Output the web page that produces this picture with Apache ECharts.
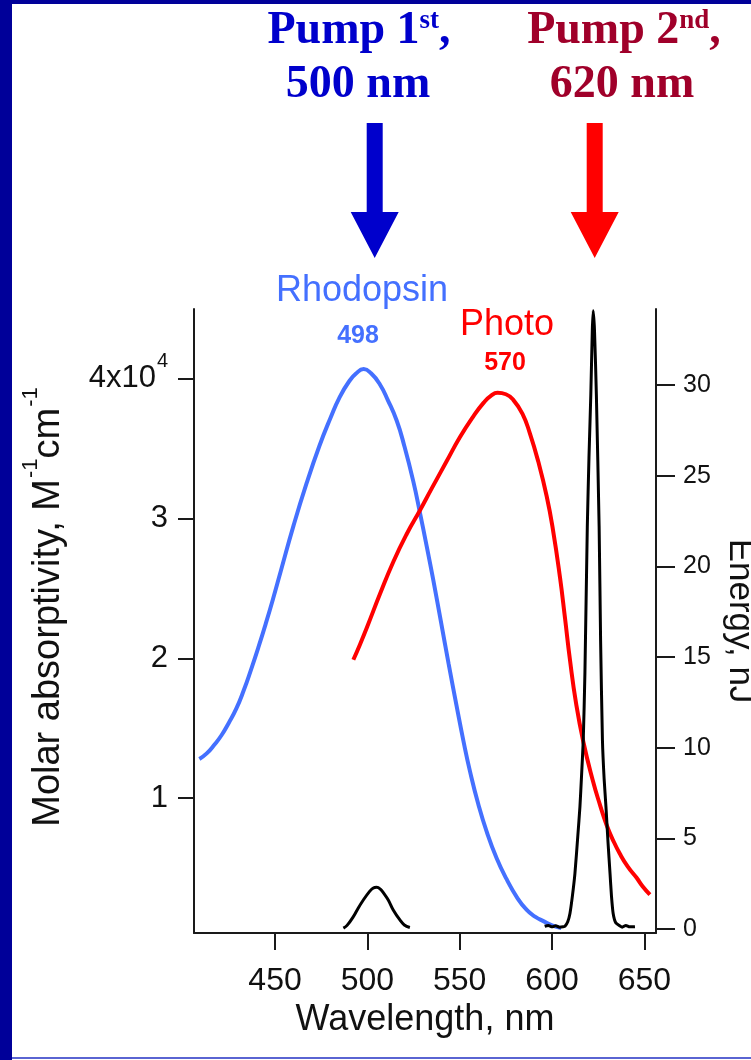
<!DOCTYPE html>
<html>
<head>
<meta charset="utf-8">
<script src="https://cdn.jsdelivr.net/npm/echarts@6.0.0/dist/echarts.min.js"></script>
<style>
  html, body { margin: 0; padding: 0; background: #fff; }
  #chart { width: 751px; height: 1060px; }
</style>
</head>
<body>
<div id="chart"></div>
<script>
// tick values
const xTicks = [450, 500, 550, 600, 650];
const absTicks = [10000, 20000, 30000, 40000];
const energyTicks = [0, 5, 10, 15, 20, 25, 30];

// molar absorptivity, M^-1 cm^-1
const rhodopsin = [
  [409, 12800], [413, 13200], [417, 13800], [421, 14500], [425, 15400], [429, 16400],
  [433, 17700], [437, 19200], [441, 20800], [445, 22500], [449, 24300], [453, 26200],
  [460, 29500], [467, 32500], [474, 35200], [480, 37200], [485, 38700], [490, 39800],
  [494, 40400], [498, 40700], [502, 40400], [506.8, 39600], [511, 38500], [515.9, 37000],
  [520, 35200], [524.8, 32700], [528.5, 30400], [532, 28100], [535.7, 25600], [540, 22500],
  [544, 19600], [548.3, 16600], [552, 14100], [555.6, 11900], [560, 9600], [564.6, 7600],
  [570, 5700], [575.4, 4200], [581, 2900], [586.3, 2000], [591, 1500], [595.3, 1200],
  [600, 900], [605, 700]
];
const photo = [
  [492.4, 19900], [496, 21000], [500, 22300], [506.8, 24600], [514, 26900], [521.3, 28900],
  [528.5, 30600], [535, 32200], [542.9, 34100], [550, 35800], [557.3, 37300], [563, 38300],
  [567, 38800], [570.5, 39000], [575, 38900], [579, 38500], [584, 37500], [588, 36100],
  [592.5, 34100], [597.1, 31600], [600.5, 29200], [604.3, 25800], [607, 22900], [609.7, 19900],
  [613, 16800], [617, 14000], [622, 11300], [626, 9500], [629.5, 8100], [633, 7000],
  [636.8, 6000], [641, 5100], [645.8, 4300], [649, 3700], [653, 3100]
];
// pulse energy, nJ
const pulse500 = [
  [487, 0.05], [489, 0.2], [492.4, 0.68], [495, 1.15], [497.8, 1.6], [501, 2.05], [503, 2.25],
  [505, 2.3], [507, 2.2], [509, 1.95], [511.3, 1.6], [514, 1.05], [517.6, 0.5], [520, 0.22], [523, 0.08]
];
const pulse620 = [
  [596, 0.15], [598, 0.2], [600, 0.12], [602, 0.18], [604, 0.1], [606, 0.12], [607, 0.15],
  [608.5, 0.4], [609.7, 0.86], [611, 1.8], [612.4, 3.07], [614, 5.2], [615.1, 6.74], [616, 8.5],
  [616.9, 10.4], [617.8, 14.1], [619.1, 22.2], [620, 26], [621, 29.5], [621.8, 33], [622.3, 34.1],
  [623, 33], [624, 29.5], [625.5, 22.2], [626.3, 15.9], [627.3, 10.4], [628.2, 8.3], [629.2, 6.74],
  [630.3, 4.8], [631.4, 3.07], [632.2, 1.8], [633.1, 0.86], [634.5, 0.35], [636.8, 0.17], [638, 0.1],
  [640, 0.2], [642, 0.12], [644.9, 0.13]
];

const SANS = '"Liberation Sans", Arial, sans-serif';
const SERIF = '"Liberation Serif", "Times New Roman", serif';
const AX = '#1a1a1a';

const chart = echarts.init(document.getElementById('chart'), null, { renderer: 'canvas' });

const option = {
  animation: false,
  backgroundColor: '#fff',
  grid: { left: 194, right: 95, top: 309, bottom: 127, containLabel: false, outerBoundsMode: 'none' },
  xAxis: {
    type: 'value', min: 406.1, max: 656.3,
    axisLine: { show: true, onZero: false, lineStyle: { color: AX, width: 2 } },
    axisTick: { show: true, inside: false, length: 17, customValues: xTicks, lineStyle: { color: AX, width: 2 } },
    axisLabel: { customValues: xTicks, fontSize: 32, fontFamily: SANS, color: '#111', margin: 32 },
    splitLine: { show: false },
    name: 'Wavelength, nm', nameLocation: 'middle', nameGap: 62,
    nameTextStyle: { fontSize: 36, fontFamily: SANS, color: '#111' }
  },
  yAxis: [
    {
      type: 'value', position: 'left', min: 350, max: 45000,
      axisLine: { show: true, lineStyle: { color: AX, width: 2 } },
      axisTick: { show: true, inside: false, length: 16, customValues: absTicks, lineStyle: { color: AX, width: 2 } },
      axisLabel: {
        customValues: absTicks, margin: 26, color: '#111', fontFamily: SANS, fontSize: 31,
        formatter: function (v) {
          if (v === 40000) return '{m|4x10}{s|4}';
          return String(v / 10000);
        },
        rich: {
          m: { fontSize: 31, fontFamily: SANS, color: '#111', verticalAlign: 'middle' },
          s: { fontSize: 20, fontFamily: SANS, color: '#111', verticalAlign: 'middle', padding: [0, 0, 34, 1] }
        }
      },
      splitLine: { show: false },
      name: '{m|Molar absorptivity, M}{s|-1}{m|cm}{s|-1}',
      nameLocation: 'middle', nameGap: 116,
      nameTextStyle: {
        padding: [0, 0, 0, 28],
        rich: {
          m: { fontSize: 38, fontFamily: SANS, color: '#111', verticalAlign: 'middle' },
          s: { fontSize: 22, fontFamily: SANS, color: '#111', verticalAlign: 'middle', padding: [0, 0, 36, 1] }
        }
      }
    },
    {
      type: 'value', position: 'right', min: -0.22, max: 34.2,
      axisLine: { show: true, lineStyle: { color: AX, width: 2 } },
      axisTick: { show: true, inside: false, length: 19, customValues: energyTicks, lineStyle: { color: AX, width: 2 } },
      axisLabel: { customValues: energyTicks, fontSize: 25, fontFamily: SANS, color: '#111', margin: 27 },
      splitLine: { show: false },
      name: 'Energy, nJ', nameLocation: 'middle', nameGap: 53, nameRotate: -90,
      nameTextStyle: { fontSize: 35, fontFamily: SANS, color: '#111' }
    }
  ],
  series: [
    {
      name: 'Rhodopsin', type: 'line', yAxisIndex: 0, data: rhodopsin,
      showSymbol: false, smooth: 0.5, lineStyle: { color: '#4470ff', width: 4 }, z: 2
    },
    {
      name: 'Photo', type: 'line', yAxisIndex: 0, data: photo,
      showSymbol: false, smooth: 0.5, lineStyle: { color: '#ff0000', width: 4 }, z: 3
    },
    {
      name: 'Pump 500', type: 'line', yAxisIndex: 1, data: pulse500,
      showSymbol: false, smooth: 0.4, lineStyle: { color: '#000', width: 3 }, z: 4
    },
    {
      name: 'Pump 620', type: 'line', yAxisIndex: 1, data: pulse620,
      showSymbol: false, smooth: 0.2, lineStyle: { color: '#000', width: 3 }, z: 4
    }
  ],
  graphic: [
    // slide border
    { type: 'rect', shape: { x: 0, y: 0, width: 12, height: 1060 }, style: { fill: '#000099' }, silent: true },
    { type: 'rect', shape: { x: 0, y: 0, width: 751, height: 4 }, style: { fill: '#000099' }, silent: true },
    { type: 'rect', shape: { x: 12, y: 1057, width: 739, height: 2 }, style: { fill: '#5a64d2' }, silent: true },
    // pump headings
    {
      type: 'text', x: 359, y: 31,
      style: {
        text: '{a|Pump 1}{s|st}{a|,}', align: 'center', verticalAlign: 'middle',
        rich: {
          a: { font: 'bold 46px ' + SERIF, fill: '#0000cc', verticalAlign: 'middle' },
          s: { font: 'bold 27px ' + SERIF, fill: '#0000cc', verticalAlign: 'middle', padding: [0, 0, 20, 0] }
        }
      }
    },
    { type: 'text', x: 358, y: 85, style: { text: '500 nm', font: 'bold 46px ' + SERIF, fill: '#0000cc', align: 'center', verticalAlign: 'middle' } },
    {
      type: 'text', x: 624, y: 31,
      style: {
        text: '{a|Pump 2}{s|nd}{a|,}', align: 'center', verticalAlign: 'middle',
        rich: {
          a: { font: 'bold 46px ' + SERIF, fill: '#a0002a', verticalAlign: 'middle' },
          s: { font: 'bold 27px ' + SERIF, fill: '#a0002a', verticalAlign: 'middle', padding: [0, 0, 20, 0] }
        }
      }
    },
    { type: 'text', x: 622, y: 85, style: { text: '620 nm', font: 'bold 46px ' + SERIF, fill: '#a0002a', align: 'center', verticalAlign: 'middle' } },
    // arrows
    {
      type: 'polygon',
      shape: { points: [[366.7, 123], [382.7, 123], [382.7, 212], [398.7, 212], [374.7, 258], [350.7, 212], [366.7, 212]] },
      style: { fill: '#0000cc' }
    },
    {
      type: 'polygon',
      shape: { points: [[586.7, 123], [602.7, 123], [602.7, 212], [618.7, 212], [594.7, 258], [570.7, 212], [586.7, 212]] },
      style: { fill: '#ff0000' }
    },
    // peak labels
    { type: 'text', x: 362, y: 291, style: { text: 'Rhodopsin', font: '36px ' + SANS, fill: '#4470ff', align: 'center', verticalAlign: 'middle' } },
    { type: 'text', x: 358, y: 336, style: { text: '498', font: 'bold 25px ' + SANS, fill: '#4470ff', align: 'center', verticalAlign: 'middle' } },
    { type: 'text', x: 507, y: 325, style: { text: 'Photo', font: '36px ' + SANS, fill: '#ff0000', align: 'center', verticalAlign: 'middle' } },
    { type: 'text', x: 505, y: 363, style: { text: '570', font: 'bold 25px ' + SANS, fill: '#ff0000', align: 'center', verticalAlign: 'middle' } }
  ]
};

chart.setOption(option);
</script>
</body>
</html>
